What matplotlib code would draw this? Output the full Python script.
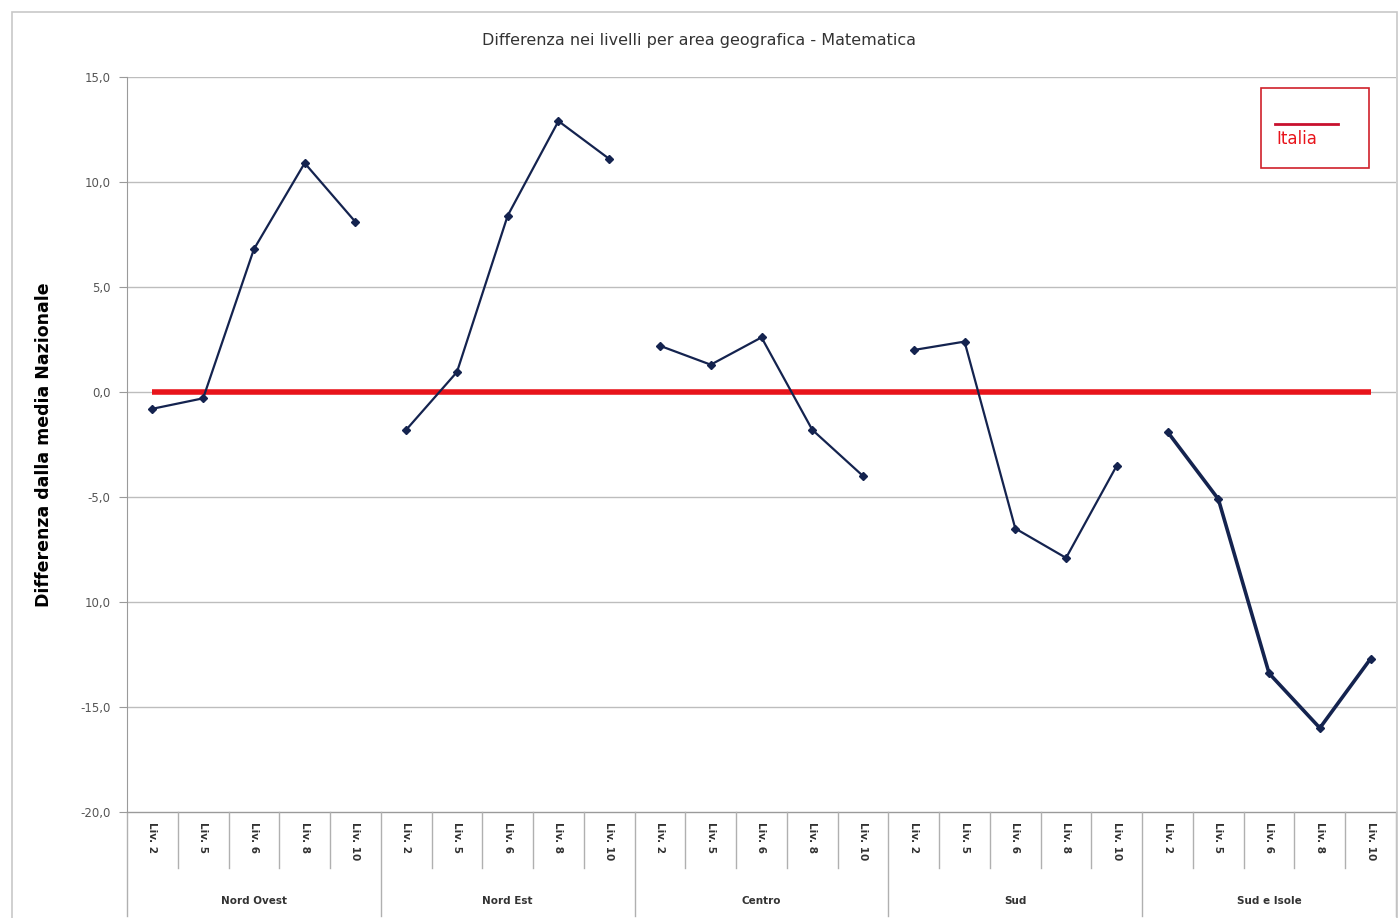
import matplotlib
matplotlib.use("Agg")
import matplotlib.pyplot as plt
from matplotlib.lines import Line2D
from matplotlib.patches import Rectangle

title = "Differenza nei livelli per area geografica - Matematica"
ylabel = "Differenza dalla media Nazionale"
areas = ["Nord Ovest", "Nord Est", "Centro", "Sud", "Sud e Isole"]
levels = ["Liv. 2", "Liv. 5", "Liv. 6", "Liv. 8", "Liv. 10"]
nord_ovest = [-0.8, -0.3, 6.8, 10.9, 8.1]
nord_est = [-1.8, 0.95, 8.4, 12.9, 11.1]
centro = [2.2, 1.3, 2.6, -1.8, -4.0]
sud = [2.0, 2.4, -6.5, -7.9, -3.5]
sud_isole = [-1.9, -5.1, -13.4, -16.0, -12.7]
italia = [0.0] * 25
yticks = [15, 10, 5, 0, -5, -10, -15, -20]
ytick_labels = ["15,0", "10,0", "5,0", "0,0", "-5,0", "10,0", "-15,0", "-20,0"]

series = [nord_ovest, nord_est, centro, sud, sud_isole]
widths = [1.6, 1.6, 1.6, 1.6, 2.6]
navy = "#14234f"

W, H = 1399, 918
fig = plt.figure(figsize=(W / 100, H / 100), dpi=100)
fig.patch.set_facecolor("white")

# outer chart frame
fig.add_artist(Rectangle((12 / W, -0.01), (1397 - 12) / W, 1 - 12 / H + 0.01,
                         transform=fig.transFigure, fill=False,
                         edgecolor="#c8c8c8", linewidth=1.2))

TOP_PX, BOT_PX = 77, 812
left, right, top, bottom = 127 / W, 1396 / W, 1 - TOP_PX / H, 1 - BOT_PX / H
ax = fig.add_axes([left, bottom, right - left, top - bottom])
ax.set_xlim(-0.5, 24.5)
ax.set_ylim(-20, 15)

for y in yticks[:-1]:
    ax.axhline(y, color="#bdbdbd", linewidth=1.0, zorder=0)

ax.plot(range(25), italia, color="#e8141b", linewidth=4, zorder=2, solid_capstyle="butt")

for g, vals in enumerate(series):
    xs = list(range(g * 5, g * 5 + 5))
    ax.plot(xs, vals, color=navy, linewidth=widths[g], marker="D",
            markersize=4.5, zorder=3)

for s in ["top", "right", "bottom"]:
    ax.spines[s].set_visible(False)
ax.spines["left"].set_color("#9a9a9a")
ax.set_yticks(yticks)
ax.set_yticklabels(ytick_labels, fontsize=8.5, color="#555555")
ax.tick_params(axis="y", length=6, color="#9a9a9a", pad=6)
ax.set_xticks([])

ax.set_ylabel(ylabel, fontsize=12.5, fontweight="bold")
ax.yaxis.set_label_coords(-0.0585, 0.5)
fig.text(0.5, 1 - 41 / H, title, ha="center", va="center", fontsize=11.5, color="#333333")

# multi-level category axis
ax_h = BOT_PX - TOP_PX
def fy(px):
    return (BOT_PX - px) / ax_h

trans = ax.get_xaxis_transform()
ax.plot([-0.5, 24.5], [0, 0], transform=trans, color="#9a9a9a", linewidth=1.0, clip_on=False)
for i in range(26):
    x = i - 0.5
    if i % 5 == 0:
        y0 = fy(916)
    else:
        y0 = fy(868)
    ax.plot([x, x], [0, y0], transform=trans, color="#b0b0b0", linewidth=1.0, clip_on=False)

for g in range(5):
    for j, lv in enumerate(levels):
        ax.text(g * 5 + j, fy(822), lv, transform=trans, rotation=270,
                ha="center", va="top", fontsize=7.5, fontweight="bold", color="#333333")
    ax.text(g * 5 + 2, fy(901), areas[g], transform=trans, ha="center", va="center",
            fontsize=7.5, fontweight="bold", color="#333333")

# legend box
lx0, ly0, lx1, ly1 = 1261 / W, 1 - 168 / H, 1369 / W, 1 - 88 / H
fig.add_artist(Rectangle((lx0, ly0), lx1 - lx0, ly1 - ly0, transform=fig.transFigure,
                         fill=False, edgecolor="#d0202a", linewidth=1.2))
fig.add_artist(Line2D([1275 / W, 1338 / W], [1 - 124 / H, 1 - 124 / H],
                      transform=fig.transFigure, color="#c8102e", linewidth=2))
fig.text(1276 / W, 1 - 139 / H, "Italia", ha="left", va="center", fontsize=12,
         color="#e8141b")

fig.savefig("out.png", dpi=100, facecolor="white")
